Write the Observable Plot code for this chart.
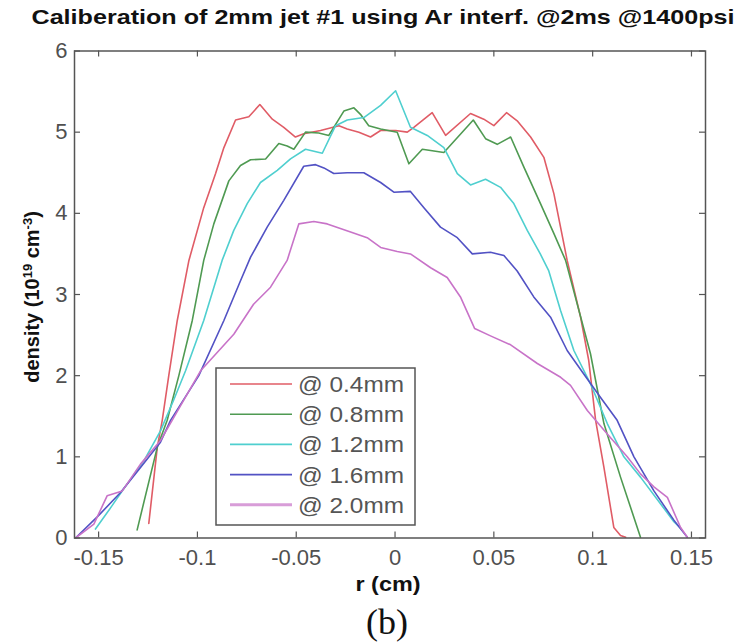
<!DOCTYPE html>
<html>
<head>
<meta charset="utf-8">
<script src="https://cdn.jsdelivr.net/npm/d3@7"></script>
<script src="https://cdn.jsdelivr.net/npm/@observablehq/plot@0.6"></script>
<style>
  html, body { margin: 0; padding: 0; background: #fff; }
  svg { display: block; }
</style>
</head>
<body>
<div id="chart"></div>
<script>
// ---- data ----
const seriesNames = ["@ 0.4mm", "@ 0.8mm", "@ 1.2mm", "@ 1.6mm", "@ 2.0mm"];
const seriesColors = ["#e05c66", "#4f9a52", "#4fcfcf", "#5252c4", "#c873c8"];
const xTicks = [-0.15, -0.1, -0.05, 0, 0.05, 0.1, 0.15];
const yTicks = [0, 1, 2, 3, 4, 5, 6];

const s04 = [[-0.1246,0.18],[-0.1203,1.12],[-0.1178,1.45],[-0.1145,2.0],[-0.1102,2.68],[-0.1043,3.42],[-0.0968,4.07],[-0.0908,4.49],[-0.0866,4.81],[-0.0807,5.15],[-0.0740,5.19],[-0.0684,5.34],[-0.0621,5.16],[-0.0563,5.06],[-0.0504,4.94],[-0.0462,4.98],[-0.0377,5.02],[-0.0284,5.08],[-0.0242,5.04],[-0.0183,5.0],[-0.0124,4.94],[-0.0073,5.02],[0.0003,5.02],[0.0062,5.0],[0.0095,5.06],[0.0188,5.24],[0.0256,4.96],[0.0382,5.23],[0.0449,5.16],[0.0500,5.08],[0.0564,5.24],[0.0618,5.14],[0.0686,4.94],[0.0753,4.69],[0.0804,4.24],[0.0871,3.42],[0.0939,2.72],[0.0980,2.19],[0.1015,1.45],[0.1057,0.87],[0.1107,0.13],[0.1141,0.03],[0.1167,0.01]];
const s08 = [[-0.1305,0.10],[-0.1203,1.12],[-0.1153,1.45],[-0.1094,2.0],[-0.1026,2.68],[-0.0968,3.42],[-0.0917,3.87],[-0.0841,4.40],[-0.0782,4.59],[-0.0731,4.66],[-0.0655,4.67],[-0.0588,4.86],[-0.0546,4.83],[-0.0512,4.79],[-0.0453,5.0],[-0.0386,4.99],[-0.0335,4.96],[-0.0259,5.26],[-0.0208,5.30],[-0.0175,5.22],[-0.0133,5.08],[-0.0073,5.04],[0.0011,5.0],[0.0070,4.61],[0.0138,4.79],[0.0247,4.75],[0.0396,5.15],[0.0458,4.92],[0.0517,4.85],[0.0585,4.94],[0.0652,4.57],[0.0736,4.12],[0.0804,3.75],[0.0863,3.42],[0.0989,2.27],[0.1057,1.41],[0.1141,0.75],[0.1242,0.01]];
const s12 = [[-0.1516,0.11],[-0.1437,0.38],[-0.1372,0.61],[-0.1271,0.95],[-0.1187,1.32],[-0.1120,1.70],[-0.1060,2.06],[-0.0968,2.68],[-0.0875,3.42],[-0.0816,3.79],[-0.0748,4.12],[-0.0681,4.38],[-0.0596,4.53],[-0.0529,4.67],[-0.0453,4.79],[-0.0368,4.74],[-0.0301,5.08],[-0.0242,5.15],[-0.0158,5.18],[-0.0073,5.33],[0.0003,5.51],[0.0078,5.06],[0.0163,4.96],[0.0247,4.81],[0.0315,4.49],[0.0382,4.35],[0.0458,4.42],[0.0534,4.32],[0.0601,4.12],[0.0669,3.79],[0.0735,3.50],[0.0778,3.29],[0.0838,2.80],[0.0905,2.31],[0.0989,1.90],[0.1074,1.41],[0.1158,1.0],[0.1242,0.75],[0.1344,0.42],[0.1411,0.20],[0.1445,0.12]];
const s16 = [[-0.1617,0.0],[-0.1507,0.26],[-0.1389,0.56],[-0.1288,0.87],[-0.1187,1.18],[-0.1136,1.45],[-0.0993,2.0],[-0.0866,2.68],[-0.0782,3.17],[-0.0731,3.46],[-0.0647,3.83],[-0.0563,4.16],[-0.0462,4.58],[-0.0402,4.60],[-0.0360,4.56],[-0.0310,4.49],[-0.0242,4.50],[-0.0158,4.50],[-0.0073,4.38],[-0.0006,4.26],[0.0078,4.27],[0.0146,4.07],[0.0230,3.83],[0.0315,3.70],[0.0391,3.50],[0.0483,3.52],[0.0551,3.48],[0.0618,3.29],[0.0702,2.97],[0.0787,2.72],[0.0871,2.31],[0.0955,2.02],[0.1040,1.73],[0.1124,1.45],[0.1209,1.0],[0.1310,0.58],[0.1411,0.22],[0.1479,0.01]];
const s20 = [[-0.1617,0.0],[-0.1524,0.17],[-0.1457,0.52],[-0.1380,0.58],[-0.1288,0.91],[-0.1187,1.20],[-0.1128,1.45],[-0.0984,2.06],[-0.0816,2.51],[-0.0716,2.88],[-0.0630,3.09],[-0.0546,3.42],[-0.0487,3.87],[-0.0411,3.90],[-0.0343,3.87],[-0.0225,3.77],[-0.0141,3.70],[-0.0073,3.58],[0.0011,3.53],[0.0078,3.50],[0.0180,3.33],[0.0264,3.21],[0.0331,2.97],[0.0403,2.58],[0.0483,2.49],[0.0585,2.38],[0.0720,2.15],[0.0838,1.98],[0.0888,1.88],[0.0973,1.57],[0.1074,1.28],[0.1175,1.0],[0.1242,0.79],[0.1310,0.63],[0.1378,0.50],[0.1445,0.13],[0.1479,0.01]];

const seriesValues = [s04, s08, s12, s16, s20];
const rows = seriesValues.flatMap((arr, i) => arr.map(([r, d]) => ({series: seriesNames[i], r, d})));

// ---- layout ----
const W = 738, H = 644;
const mTop = 50.5, mLeft = 74, mRight = 33, mBottom = 106.5;
const plotW = W - mLeft - mRight, plotH = H - mTop - mBottom;
const tickLen = 6;
const axisColor = "#555";
const sans = "'Liberation Sans', Arial, sans-serif";

const chart = Plot.plot({
  width: W, height: H,
  marginTop: mTop, marginLeft: mLeft, marginRight: mRight, marginBottom: mBottom,
  style: {fontFamily: sans, fontSize: "22px", color: "#505050", background: "#fff"},
  x: {domain: [-0.1622, 0.1571]},
  y: {domain: [0, 6]},
  color: {domain: seriesNames, range: seriesColors},
  marks: [
    Plot.line(rows, {x: "r", y: "d", z: "series", stroke: "series", strokeWidth: 1.6}),
    // inward ticks (MATLAB style) on all four sides
    Plot.tickX(xTicks, {x: d => d, insetTop: plotH - tickLen, stroke: axisColor, strokeWidth: 1.2}),
    Plot.tickX(xTicks, {x: d => d, insetBottom: plotH - tickLen, stroke: axisColor, strokeWidth: 1.2}),
    Plot.tickY(yTicks, {y: d => d, insetRight: plotW - tickLen, stroke: axisColor, strokeWidth: 1.2}),
    Plot.tickY(yTicks, {y: d => d, insetLeft: plotW - tickLen, stroke: axisColor, strokeWidth: 1.2}),
    Plot.frame({stroke: axisColor, strokeWidth: 1.5}),
    Plot.axisX(xTicks, {tickSize: 0, tickPadding: 11, tickFormat: d => String(d), label: null, fontSize: 22}),
    Plot.axisY(yTicks, {tickSize: 0, tickPadding: 7, tickFormat: d => String(d), label: null, fontSize: 22})
  ]
});
document.getElementById("chart").appendChild(chart);

const svg = d3.select(chart);

// title
svg.append("text")
  .attr("x", 383).attr("y", 24)
  .attr("text-anchor", "middle")
  .attr("font-family", sans).attr("font-weight", "bold").attr("font-size", 21)
  .attr("textLength", 703).attr("lengthAdjust", "spacingAndGlyphs")
  .attr("fill", "#111")
  .text("Caliberation of 2mm jet #1 using Ar interf. @2ms @1400psi");

// y label
const yl = svg.append("text")
  .attr("transform", "translate(39,297) rotate(-90)")
  .attr("text-anchor", "middle")
  .attr("font-family", sans).attr("font-weight", "bold").attr("font-size", 20)
  .attr("fill", "#111");
yl.append("tspan").text("density (10");
yl.append("tspan").attr("font-size", 13).attr("baseline-shift", "7").text("19");
yl.append("tspan").text(" cm");
yl.append("tspan").attr("font-size", 13).attr("baseline-shift", "7").text("-3");
yl.append("tspan").text(")");

// x label
svg.append("text")
  .attr("x", 388).attr("y", 591)
  .attr("text-anchor", "middle")
  .attr("font-family", sans).attr("font-weight", "bold").attr("font-size", 21)
  .attr("textLength", 65).attr("lengthAdjust", "spacingAndGlyphs")
  .attr("fill", "#111")
  .text("r (cm)");

// panel tag
svg.append("text")
  .attr("x", 387).attr("y", 634)
  .attr("text-anchor", "middle")
  .attr("font-family", "'Liberation Serif', 'Times New Roman', serif").attr("font-size", 36)
  .attr("fill", "#111")
  .text("(b)");

// legend
const lg = svg.append("g");
const lx = 216, ly = 368, lw = 199, lh = 157;
lg.append("rect").attr("x", lx).attr("y", ly).attr("width", lw).attr("height", lh)
  .attr("fill", "#fff").attr("stroke", "#555").attr("stroke-width", 1.5);
seriesNames.forEach((name, i) => {
  const cy = 384 + i * 30.2;
  lg.append("line").attr("x1", 230).attr("x2", 292).attr("y1", cy).attr("y2", cy)
    .attr("stroke", seriesColors[i]).attr("stroke-width", i === 4 ? 3 : 1.6)
    .attr("stroke-opacity", i === 4 ? 0.7 : 1);
  lg.append("text").attr("x", 298).attr("y", cy + 8)
    .attr("text-anchor", "start")
    .attr("font-family", sans).attr("font-size", 22).attr("fill", "#555")
    .attr("textLength", 106).attr("lengthAdjust", "spacingAndGlyphs")
    .text(name);
});
</script>
</body>
</html>
